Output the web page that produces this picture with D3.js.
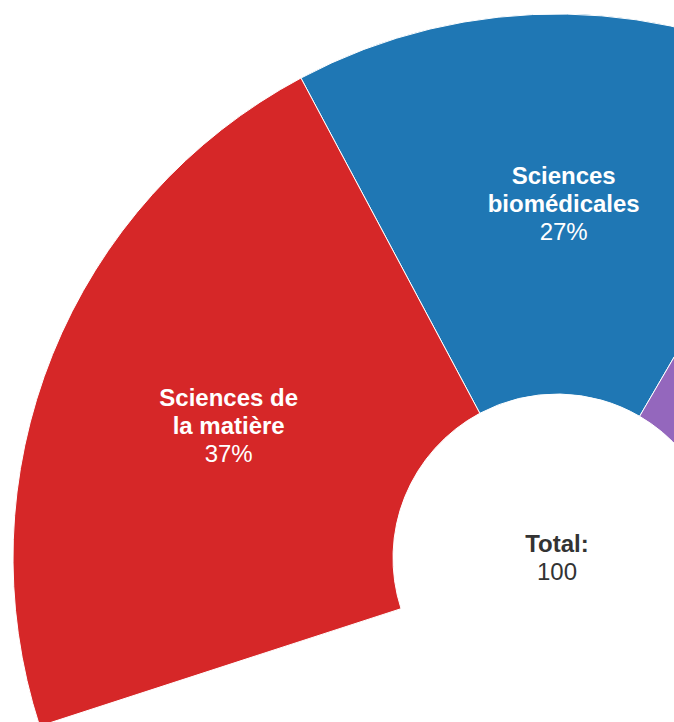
<!DOCTYPE html>
<html>
<head>
<meta charset="utf-8">
<script src="https://cdn.jsdelivr.net/npm/d3@7"></script>
<style>
  html, body { margin: 0; padding: 0; background: #fff; overflow: hidden; }
  svg { display: block; font-family: "Liberation Sans", Arial, sans-serif; }
</style>
</head>
<body>
<svg id="chart" width="674" height="722"></svg>
<script>
// Data (in original data order; colours follow d3.schemeCategory10 by this order)
const categories = [
  "Sciences biomédicales",
  "Sciences humaines",
  "Sciences sociales",
  "Sciences de la matière",
  "Sciences de la vie"
];
const labelLines = [
  ["Sciences", "biomédicales"],
  ["Sciences", "humaines"],
  ["Sciences", "sociales"],
  ["Sciences de", "la matière"],
  ["Sciences de", "la vie"]
];
const values = [27, 10, 8, 37, 18];
const totalLabel = "Total:";

const W = 674, H = 722;
const svg = d3.select("#chart");
const cx = 557, cy = 558;
const innerR = 164, outerR = 544;

const data = categories.map((c, i) => ({ name: c, lines: labelLines[i], value: values[i], idx: i }));
const total = d3.sum(values);

const color = d3.scaleOrdinal().domain(categories).range(d3.schemeCategory10);

const pie = d3.pie()
  .value(d => d.value)
  .startAngle(-0.6 * Math.PI)
  .endAngle(0.6 * Math.PI);

const arc = d3.arc().innerRadius(innerR).outerRadius(outerR);

const g = svg.append("g").attr("transform", `translate(${cx},${cy})`);
const arcs = pie(data);

g.selectAll("path.slice")
  .data(arcs)
  .join("path")
  .attr("class", "slice")
  .attr("d", arc)
  .attr("fill", d => color(d.data.name))
  .attr("stroke", "#fff")
  .attr("stroke-width", 1);

// Only label slices whose label centre lies inside the visible area
const visibleArcs = arcs.filter(d => {
  const [x, y] = arc.centroid(d);
  return cx + x > 80 && cx + x < W - 80 && cy + y > 40 && cy + y < H - 40;
});

const lh = 28;
const labels = g.selectAll("text.label")
  .data(visibleArcs)
  .join("text")
  .attr("class", "label")
  .attr("transform", d => `translate(${arc.centroid(d)})`)
  .attr("text-anchor", "middle")
  .attr("fill", "#fff")
  .style("font-size", "24px");

labels.each(function(d) {
  const t = d3.select(this);
  const lines = d.data.lines;
  const n = lines.length + 1;
  lines.forEach((ln, i) => {
    t.append("tspan")
      .attr("x", 0)
      .attr("y", (i - (n - 1) / 2) * lh)
      .attr("dy", "0.35em")
      .attr("font-weight", "bold")
      .text(ln);
  });
  t.append("tspan")
    .attr("x", 0)
    .attr("y", ((n - 1) - (n - 1) / 2) * lh)
    .attr("dy", "0.35em")
    .text(Math.round(d.data.value / total * 100) + "%");
});

const center = g.append("text")
  .attr("text-anchor", "middle")
  .attr("fill", "#333")
  .style("font-size", "24px");
center.append("tspan").attr("x", 0).attr("y", -14).attr("dy", "0.35em")
  .attr("font-weight", "bold").text(totalLabel);
center.append("tspan").attr("x", 0).attr("y", 14).attr("dy", "0.35em")
  .text(total);
</script>
</body>
</html>
